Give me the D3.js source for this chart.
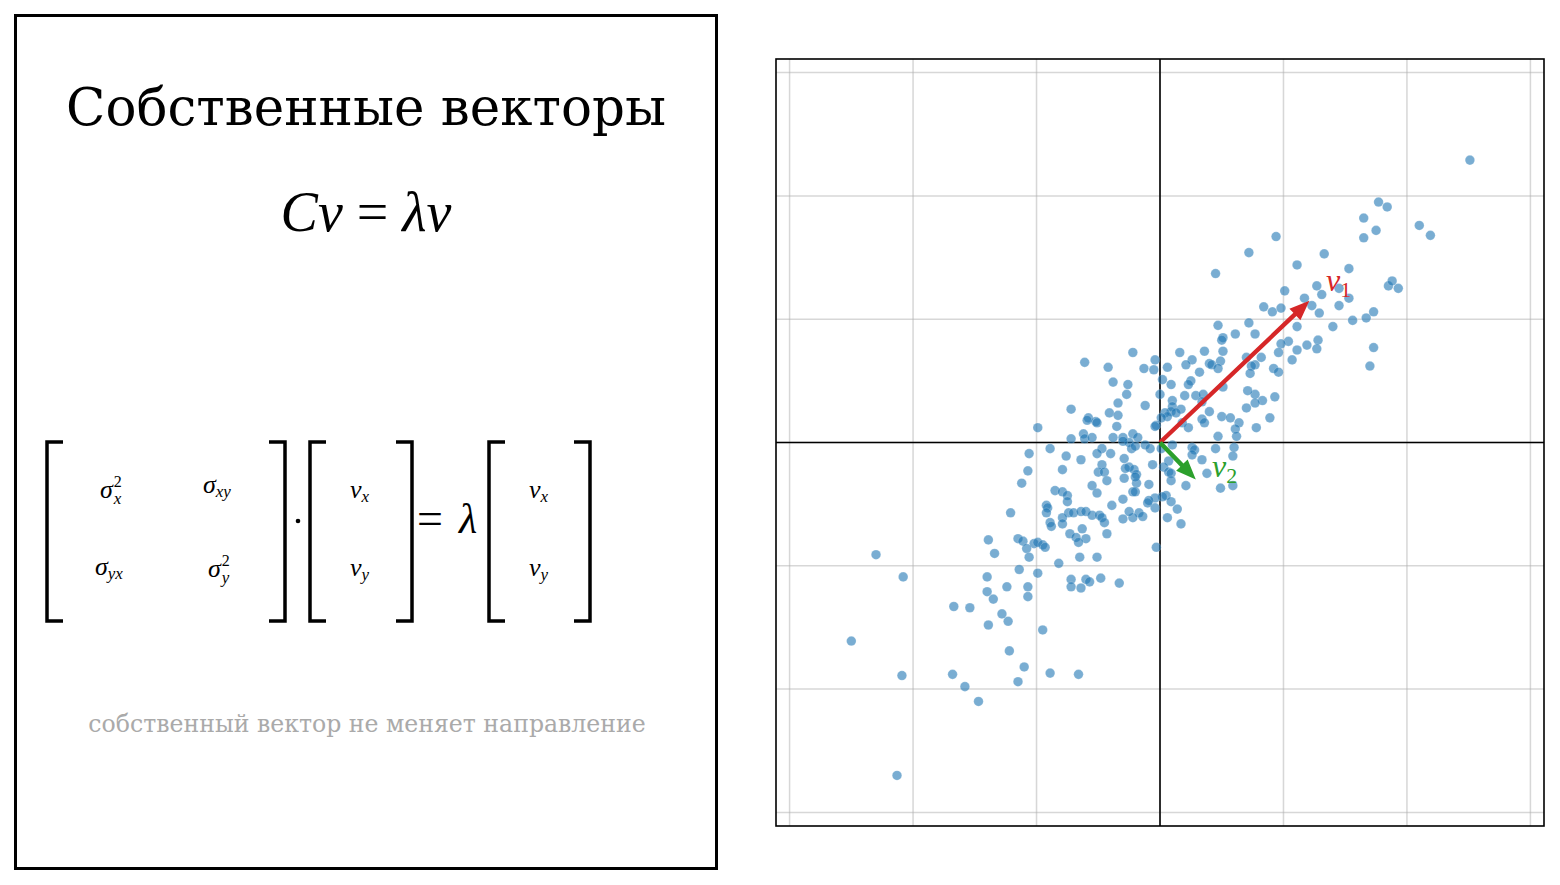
<!DOCTYPE html>
<html>
<head>
<meta charset="utf-8">
<script src="https://cdnjs.cloudflare.com/ajax/libs/d3/7.8.5/d3.min.js"></script>
<style>
  body { margin: 0; background: #fff; }
  svg { display: block; }
</style>
</head>
<body>
<svg id="fig" width="1560" height="885"></svg>
<script>
/* Eigenvectors slide: text panel on the left, scatter + eigenvectors on the right. */

const gridTicks = [-3, -2, -1, 0, 1, 2, 3];
const domain = [-3.11, 3.11];

// sample points
const ptsX = [
  2.51, 1.77, 1.84, 1.65, 1.75, 2.10, 2.19, 1.65, 0.94, 1.33, 1.11, 1.53, 0.72, 1.27, 1.31, 1.45, 1.53, 1.85, 1.88, 1.93,
  1.01, 1.17, 1.23, 1.45, 0.84, 0.91, 0.98, 1.29, 1.73, 1.67, 1.56, 1.40, 1.11, 0.72, 0.77, 1.04, 0.98, 1.28, 1.19, 1.11,
  1.27, 0.96, 1.73, 1.07, 0.82, 0.77, 0.92, 0.96, 1.70, 0.77, 0.83, 0.77, 0.93, 0.89, 0.78, 0.45, 0.74, 0.47, 0.61, 0.51,
  0.50, -0.22, 0.16, 0.36, 0.51, -0.04, 0.26, 0.40, 0.42, 0.49, 0.70, -0.13, -0.05, 0.06, 0.21, 0.32, 0.47, 0.73, 0.02, 0.09,
  0.25, 0.23, 0.51, 0.71, 0.00, 0.20, 0.29, 0.35, 0.10, 0.34, -0.12, 0.10, 0.17, 0.09, 0.13, 0.70, 0.04, 0.06, 0.01, 0.40,
  0.50, 0.57, 0.34, 0.36, 0.18, -0.03, -0.04, 0.23, 0.64, 0.61, 0.47, 0.62, -0.22, -0.18, -0.25, -0.12, -0.08, 0.10, 0.26, 0.28,
  0.45, 0.60, 0.59, 0.26, 0.34, 0.07, 0.01, -0.25, -0.21, -0.19, -0.06, 0.03, 0.07, 0.09, 0.38, 0.59, 0.49, 0.21, 0.09, -0.09,
  -0.19, -0.22, 0.05, 0.02, 0.09, -0.04, -0.09, -0.04, -0.10, 0.14, -0.17, -0.14, -0.22, 0.06, 0.17, -0.03, -0.61, -0.42, -0.38, -0.26,
  -0.27, -0.34, -0.72, -0.41, -0.34, -0.58, -0.59, -0.52, -0.51, -0.35, -0.99, -0.62, -0.61, -0.55, -0.72, -0.38, -0.30, -0.30, -1.06, -0.89,
  -0.76, -0.64, -0.47, -0.51, -0.40, -0.47, -0.29, -0.23, -0.20, -1.07, -0.79, -0.50, -0.45, -0.43, -0.55, -0.51, -0.28, -0.29, -0.20, -1.12,
  -0.85, -0.79, -0.75, -0.75, -0.39, -0.30, -0.20, -0.92, -0.91, -0.92, -1.21, -0.74, -0.79, -0.70, -0.64, -0.60, -0.55, -0.49, -0.47, -0.45,
  -0.25, -0.30, -0.89, -0.88, -0.79, -0.43, -0.73, -0.68, -0.63, -0.60, -0.66, -1.15, -1.11, -1.02, -0.99, -0.95, -0.93, -1.08, -1.06, -0.82,
  -0.65, -0.51, -1.14, -0.99, -0.72, -0.72, -0.64, -0.60, -0.57, -0.48, -0.33, -1.24, -1.07, -1.07, -2.30, -2.08, -2.50, -2.09, -2.13, -1.39,
  -1.34, -1.40, -1.40, -1.35, -1.67, -1.54, -1.28, -1.23, -1.39, -1.22, -1.68, -1.58, -1.47, -1.15, -0.95, -1.10, -0.89, -0.66
];
const ptsY = [
  2.29, 1.95, 1.91, 1.82, 1.72, 1.76, 1.68, 1.66, 1.67, 1.53, 1.44, 1.41, 1.54, 1.27, 1.20, 1.25, 1.17, 1.27, 1.31, 1.25,
  1.23, 1.17, 1.11, 1.11, 1.10, 1.06, 1.09, 1.05, 1.06, 1.01, 0.99, 0.94, 0.94, 0.97, 0.88, 0.82, 0.80, 0.83, 0.79, 0.75,
  0.76, 0.73, 0.77, 0.67, 0.69, 0.63, 0.60, 0.57, 0.62, 0.39, 0.34, 0.32, 0.37, 0.20, 0.12, 1.37, 0.62, 0.95, 0.88, 0.85,
  0.83, 0.73, 0.73, 0.74, 0.74, 0.67, 0.67, 0.64, 0.63, 0.66, 0.69, 0.60, 0.59, 0.61, 0.63, 0.57, 0.60, 0.56, 0.51, 0.47,
  0.50, 0.47, 0.45, 0.42, 0.39, 0.38, 0.38, 0.39, 0.34, 0.33, 0.30, 0.29, 0.27, 0.25, 0.24, 0.28, 0.24, 0.21, 0.20, 0.25,
  0.21, 0.20, 0.19, 0.16, 0.16, 0.14, 0.13, 0.12, 0.16, 0.11, 0.05, 0.05, 0.07, 0.04, 0.00, -0.02, -0.05, -0.02, -0.04, -0.06,
  -0.05, -0.04, -0.11, -0.10, -0.14, -0.15, -0.05, -0.20, -0.22, -0.26, -0.18, -0.20, -0.24, -0.25, -0.25, -0.35, -0.37, -0.35, -0.31, -0.34,
  -0.33, -0.40, -0.43, -0.44, -0.48, -0.45, -0.47, -0.53, -0.49, -0.54, -0.57, -0.60, -0.61, -0.61, -0.66, -0.85, 0.65, 0.61, 0.49, 0.47,
  0.39, 0.32, 0.27, 0.24, 0.22, 0.20, 0.18, 0.17, 0.16, 0.13, 0.12, 0.07, 0.03, 0.04, 0.03, 0.04, 0.04, 0.01, -0.09, -0.05,
  -0.11, -0.14, -0.05, -0.09, -0.09, -0.18, -0.13, -0.05, -0.03, -0.23, -0.22, -0.24, -0.24, -0.31, -0.35, -0.41, -0.21, -0.29, -0.28, -0.33,
  -0.39, -0.40, -0.43, -0.48, -0.51, -0.46, -0.40, -0.51, -0.53, -0.57, -0.57, -0.57, -0.61, -0.57, -0.56, -0.56, -0.59, -0.59, -0.61, -0.65,
  -0.56, -0.62, -0.65, -0.68, -0.66, -0.74, -0.74, -0.77, -0.70, -0.78, -0.81, -0.78, -0.80, -0.82, -0.81, -0.83, -0.85, -0.86, -0.93, -0.98,
  -0.93, -0.93, -1.03, -1.06, -1.11, -1.17, -1.18, -1.11, -1.13, -1.10, -1.14, -1.17, -1.17, -1.25, -0.91, -1.09, -1.61, -1.89, -2.70, -0.79,
  -0.90, -1.09, -1.21, -1.27, -1.33, -1.34, -1.39, -1.45, -1.48, -1.69, -1.88, -1.98, -2.10, -1.94, -1.52, -1.82, -1.87, -1.88
];

// eigenvectors (tips, data units)
const eigenX = [1.21, 0.29];
const eigenY = [1.15, -0.30];
const eigenColor = ["#d62728", "#2ca02c"];
const eigenSub = ["1", "2"];

const svg = d3.select("#fig");
const serif = "'DejaVu Serif', serif";
const math = "'Liberation Serif', 'DejaVu Serif', serif";

// ----- left panel -----
const left = svg.append("g");
left.append("rect").attr("x", 15.5).attr("y", 15.5).attr("width", 701).attr("height", 853)
  .attr("fill", "none").attr("stroke", "#000").attr("stroke-width", 3);

left.append("text").attr("x", 366).attr("y", 125).attr("text-anchor", "middle")
  .attr("font-family", serif).attr("font-size", 51.5).text("Собственные векторы");

const eq = left.append("text").attr("x", 366).attr("y", 231).attr("text-anchor", "middle")
  .attr("font-family", math).attr("font-size", 56);
eq.append("tspan").attr("font-style", "italic").text("Cv");
eq.append("tspan").text(" = ");
eq.append("tspan").attr("font-style", "italic").text("λv");

// brackets
function bracket(x, dir) {
  const top = 442, bot = 621, s = 16 * dir;
  left.append("path")
    .attr("d", `M${x + s},${top} H${x} V${bot} H${x + s}`)
    .attr("fill", "none").attr("stroke", "#000").attr("stroke-width", 3.5);
}
bracket(47, 1); bracket(285, -1);
bracket(310, 1); bracket(412, -1);
bracket(489, 1); bracket(590, -1);

// matrix entries: base glyph with optional sub / sup
function entry(x, y, base, sub, sup) {
  const g = left.append("g").attr("font-family", math).attr("font-style", "italic");
  const b = g.append("text").attr("x", x).attr("y", y).attr("font-size", 26).text(base);
  const w = b.node().getComputedTextLength();
  if (sup) g.append("text").attr("x", x + w + 1).attr("y", y - 11).attr("font-size", 16)
    .attr("font-style", "normal").text(sup);
  if (sub) g.append("text").attr("x", x + w + (sup ? 1 : 0)).attr("y", y + (sup ? 6 : 4))
    .attr("font-size", 17).text(sub);
}
entry(100, 498, "σ", "x", "2");
entry(203, 493, "σ", "xy");
entry(95, 575, "σ", "yx");
entry(208, 577, "σ", "y", "2");
entry(350, 498, "v", "x");
entry(350, 576, "v", "y");
entry(529, 498, "v", "x");
entry(529, 576, "v", "y");

left.append("circle").attr("cx", 298).attr("cy", 521).attr("r", 2.3).attr("fill", "#000");
left.append("text").attr("x", 430).attr("y", 534).attr("text-anchor", "middle")
  .attr("font-family", math).attr("font-size", 46).text("=");
left.append("text").attr("x", 468).attr("y", 533).attr("text-anchor", "middle")
  .attr("font-family", math).attr("font-style", "italic").attr("font-size", 42).text("λ");

left.append("text").attr("x", 367).attr("y", 732).attr("text-anchor", "middle")
  .attr("font-family", serif).attr("font-size", 23.6).attr("fill", "#aaaaaa")
  .text("собственный вектор не меняет направление");

// ----- right panel: scatter -----
const x = d3.scaleLinear().domain(domain).range([776, 1544]);
const y = d3.scaleLinear().domain(domain).range([826, 59]);
const plot = svg.append("g");

plot.append("g").selectAll("line.gx").data(gridTicks).join("line")
  .attr("x1", (d) => x(d)).attr("x2", (d) => x(d)).attr("y1", y(domain[0])).attr("y2", y(domain[1]))
  .attr("stroke", "#b0b0b0").attr("stroke-opacity", 0.5).attr("stroke-width", 1.5);
plot.append("g").selectAll("line.gy").data(gridTicks).join("line")
  .attr("y1", (d) => y(d)).attr("y2", (d) => y(d)).attr("x1", x(domain[0])).attr("x2", x(domain[1]))
  .attr("stroke", "#b0b0b0").attr("stroke-opacity", 0.5).attr("stroke-width", 1.5);

plot.append("line").attr("x1", x(domain[0])).attr("x2", x(domain[1])).attr("y1", y(0)).attr("y2", y(0))
  .attr("stroke", "#000").attr("stroke-width", 1.6);
plot.append("line").attr("y1", y(domain[0])).attr("y2", y(domain[1])).attr("x1", x(0)).attr("x2", x(0))
  .attr("stroke", "#000").attr("stroke-width", 1.6);

plot.append("g").selectAll("circle").data(d3.range(ptsX.length)).join("circle")
  .attr("cx", (i) => x(ptsX[i])).attr("cy", (i) => y(ptsY[i])).attr("r", 4.8)
  .attr("fill", "#1f77b4").attr("fill-opacity", 0.6)
  .attr("stroke", "#fff").attr("stroke-opacity", 0.4).attr("stroke-width", 0.5);

// arrows
function arrowPath(x0, y0, x1, y1, shaft, headL, headW) {
  const dx = x1 - x0, dy = y1 - y0, L = Math.hypot(dx, dy);
  const ux = dx / L, uy = dy / L, nx = -uy, ny = ux;
  const bx = x1 - ux * headL, by = y1 - uy * headL;
  const p = [
    [x0 + nx * shaft / 2, y0 + ny * shaft / 2],
    [bx + nx * shaft / 2, by + ny * shaft / 2],
    [bx + nx * headW / 2, by + ny * headW / 2],
    [x1, y1],
    [bx - nx * headW / 2, by - ny * headW / 2],
    [bx - nx * shaft / 2, by - ny * shaft / 2],
    [x0 - nx * shaft / 2, y0 - ny * shaft / 2],
  ];
  return "M" + p.map((q) => q.join(",")).join("L") + "Z";
}
eigenX.forEach((ex, i) => {
  plot.append("path")
    .attr("d", arrowPath(x(0), y(0), x(ex), y(eigenY[i]), 4.4, 20, 16))
    .attr("fill", eigenColor[i]);
});

// labels
function vLabel(px, py, sub, color) {
  const t = plot.append("text").attr("x", px).attr("y", py).attr("fill", color)
    .attr("font-family", math).attr("font-style", "italic").attr("font-size", 32);
  t.append("tspan").text("v");
  t.append("tspan").attr("font-style", "normal").attr("font-size", 22).attr("dy", 6).text(sub);
}
vLabel(1326, 291, eigenSub[0], eigenColor[0]);
vLabel(1212, 477, eigenSub[1], eigenColor[1]);

plot.append("rect").attr("x", 776).attr("y", 59).attr("width", 768).attr("height", 767)
  .attr("fill", "none").attr("stroke", "#000").attr("stroke-width", 1.6);
</script>
</body>
</html>
